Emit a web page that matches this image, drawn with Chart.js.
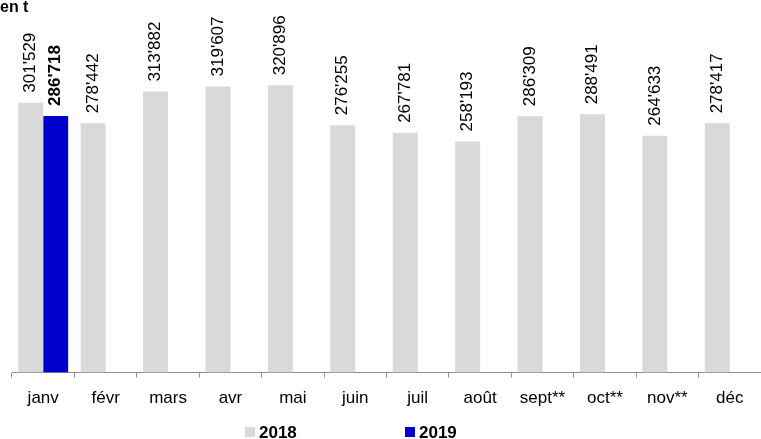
<!DOCTYPE html>
<html>
<head>
<meta charset="utf-8">
<script src="https://cdn.jsdelivr.net/npm/chart.js@4/dist/chart.umd.min.js"></script>
<style>
  html, body { margin: 0; padding: 0; background: #ffffff; }
  #wrap { width: 761px; height: 439px; position: relative; }
</style>
</head>
<body>
<div id="wrap"><canvas id="c" width="761" height="439"></canvas></div>
<script>
const categories = ['janv', 'févr', 'mars', 'avr', 'mai', 'juin', 'juil', 'août', 'sept**', 'oct**', 'nov**', 'déc'];
const values2018 = [301529, 278442, 313882, 319607, 320896, 276255, 267781, 258193, 286309, 288491, 264633, 278417];
const values2019 = [286718, null, null, null, null, null, null, null, null, null, null, null];
const seriesNames = ['2018', '2019'];
const titleText = 'en t';

const colors = ['#d9d9d9', '#0000cc'];
const FONT = 'Arial, "Liberation Sans", sans-serif';

function fmt(v) {
  const th = Math.floor(v / 1000);
  const rest = String(v % 1000).padStart(3, '0');
  return th + "'" + rest;
}

const labelPlugin = {
  id: 'barLabels',
  afterDatasetsDraw(chart) {
    const ctx = chart.ctx;
    chart.data.datasets.forEach((ds, di) => {
      const meta = chart.getDatasetMeta(di);
      meta.data.forEach((bar, i) => {
        const v = ds.data[i];
        if (v == null) return;
        ctx.save();
        ctx.translate(bar.x, bar.y - 10);
        ctx.rotate(-Math.PI / 2);
        ctx.font = (di === 1 ? 'bold ' : '') + '17px ' + FONT;
        ctx.fillStyle = '#000';
        ctx.textAlign = 'left';
        ctx.textBaseline = 'middle';
        ctx.fillText(fmt(v), 0, 0);
        ctx.restore();
      });
    });
  },
  afterDraw(chart) {
    const ctx = chart.ctx;
    ctx.save();
    // partial title
    ctx.font = 'bold 16px ' + FONT;
    ctx.fillStyle = '#000';
    ctx.textBaseline = 'alphabetic';
    ctx.textAlign = 'left';
    ctx.fillText(titleText, 0, 12);
    // legend
    const starts = [245, 405];
    ctx.font = 'bold 17px ' + FONT;
    chart.data.datasets.forEach((ds, di) => {
      ctx.fillStyle = ds.backgroundColor;
      ctx.fillRect(starts[di], 427, 10, 10);
      ctx.fillStyle = '#000';
      ctx.fillText(ds.label, starts[di] + 14, 438);
    });
    ctx.restore();
  }
};

new Chart(document.getElementById('c'), {
  type: 'bar',
  data: {
    labels: categories,
    datasets: [
      { label: seriesNames[0], data: values2018, backgroundColor: colors[0], categoryPercentage: 0.8, barPercentage: 1.0 },
      { label: seriesNames[1], data: values2019, backgroundColor: colors[1], categoryPercentage: 0.8, barPercentage: 1.0 }
    ]
  },
  options: {
    responsive: false,
    animation: false,
    devicePixelRatio: 1,
    layout: { padding: { top: 14.5, left: 12, right: -6, bottom: 19 } },
    plugins: {
      legend: { display: false },
      tooltip: { enabled: false }
    },
    scales: {
      y: { display: false, min: 0, max: 400000 },
      x: {
        border: { display: true, color: '#8c8c8c', width: 1 },
        grid: { display: true, drawOnChartArea: false, drawTicks: true, tickLength: 5, color: '#8c8c8c', offset: true },
        ticks: { color: '#000', font: { family: FONT, size: 17 }, padding: 11, maxRotation: 0, autoSkip: false }
      }
    }
  },
  plugins: [labelPlugin]
});
</script>
</body>
</html>
